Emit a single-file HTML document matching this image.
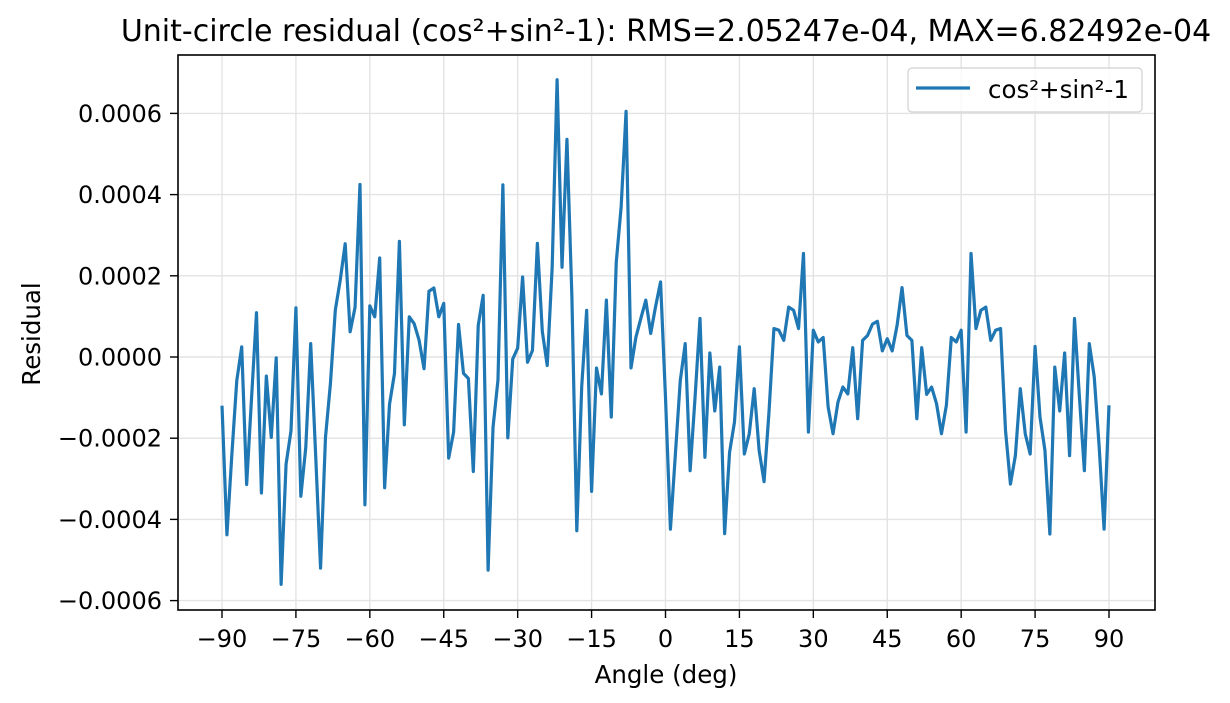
<!DOCTYPE html>
<html><head><meta charset="utf-8"><style>
html,body{margin:0;padding:0;background:#fff;}
svg{display:block;font-family:"DejaVu Sans","Liberation Sans",sans-serif;}
</style></head><body>
<svg id="chart" width="1230" height="703" viewBox="0 0 1230 703">
<rect width="1230" height="703" fill="#fff"/>
<text x="666" y="41" font-size="30" text-anchor="middle" fill="#000">Unit-circle residual (cos²+sin²-1): RMS=2.05247e-04, MAX=6.82492e-04</text>
<g id="grid"></g>
<g id="ticks"></g>
<polyline id="series" fill="none" stroke="#1f77b4" stroke-width="3.2" stroke-linejoin="round"/>
<rect x="178" y="55" width="977" height="555" fill="none" stroke="#000" stroke-width="1.6"/>
<text x="666" y="683" font-size="24.5" text-anchor="middle">Angle (deg)</text>
<text x="40" y="334" font-size="24.5" text-anchor="middle" transform="rotate(-90 40 334)">Residual</text>
<g>
<rect x="908" y="68" width="234" height="44" rx="4" fill="#fff" fill-opacity="0.8" stroke="#d0d0d0" stroke-width="1.2"/>
<line x1="916" y1="88" x2="970" y2="88" stroke="#1f77b4" stroke-width="3.2"/>
<text x="988" y="98" font-size="24.5">cos²+sin²-1</text>
</g>
</svg>
<script>
const angles = [];
for (let a = -90; a <= 90; a++) angles.push(a);
// residual values in units of 1e-4
const residualE4 = [
-1.2,-4.38,-2.4,-0.58,0.25,-3.14,-1.0,1.09,-3.35,-0.47,
-1.98,-0.02,-5.6,-2.64,-1.82,1.21,-3.43,-2.23,0.33,-2.4,
-5.2,-1.98,-0.66,1.16,1.9,2.79,0.62,1.22,4.25,-3.64,
1.26,0.99,2.44,-3.22,-1.16,-0.41,2.85,-1.67,0.99,0.82,
0.41,-0.29,1.62,1.70,0.99,1.32,-2.49,-1.85,0.80,-0.40,
-0.53,-2.82,0.78,1.52,-5.25,-1.73,-0.57,4.24,-1.99,-0.05,
0.22,1.97,-0.13,0.16,2.80,0.63,-0.21,2.2,6.83,2.21,
5.36,1.5,-4.28,-0.72,1.15,-3.31,-0.27,-0.91,1.40,-1.48,
2.32,3.70,6.05,-0.27,0.49,0.95,1.40,0.58,1.25,1.85,
-1.0,-4.24,-2.4,-0.58,0.33,-2.80,-0.99,0.95,-2.47,0.10,
-1.33,-0.25,-4.35,-2.35,-1.60,0.25,-2.39,-1.89,-0.78,-2.30,
-3.07,-1.36,0.70,0.66,0.41,1.23,1.15,0.70,2.55,-1.85,
0.66,0.37,0.48,-1.23,-1.89,-1.11,-0.74,-0.91,0.23,-1.52,
0.41,0.53,0.81,0.88,0.15,0.45,0.15,0.78,1.71,0.53,
0.41,-1.52,0.23,-0.92,-0.74,-1.15,-1.89,-1.19,0.48,0.37,
0.66,-1.85,2.55,0.70,1.15,1.23,0.41,0.66,0.70,-1.81,
-3.13,-2.43,-0.78,-1.89,-2.39,0.26,-1.48,-2.30,-4.36,-0.25,
-1.33,0.10,-2.43,0.95,-0.99,-2.80,0.33,-0.49,-2.2,-4.24,
-1.19
];
const xTicks = [-90,-75,-60,-45,-30,-15,0,15,30,45,60,75,90];
const yTicks = [0.0006,0.0004,0.0002,0,-0.0002,-0.0004,-0.0006];
const yTickLabels = ["0.0006","0.0004","0.0002","0.0000","\u22120.0002","\u22120.0004","\u22120.0006"];

function xScale(a){ return 222 + (a + 90) * (1109 - 222) / 180; }
function yScale(v){ return 357 - v / 0.0002 * 81.2; }

const NS = "http://www.w3.org/2000/svg";
const grid = document.getElementById('grid');
const ticks = document.getElementById('ticks');
function mk(tag, attrs, parent){ const e=document.createElementNS(NS,tag); for(const k in attrs) e.setAttribute(k,attrs[k]); parent.appendChild(e); return e; }

xTicks.forEach(t=>{
  const x = xScale(t);
  const g = mk('line',{x1:x,x2:x,y1:55,y2:610,stroke:'#e3e3e3','stroke-width':1.4},grid);
  
  
  const tk = mk('line',{x1:x,x2:x,y1:610,y2:618,stroke:'#000','stroke-width':1.4},ticks);
  
  
  const lb = mk('text',{x:x,y:647,'font-size':24,'text-anchor':'middle'},ticks);
  lb.textContent = t < 0 ? '\u2212' + Math.abs(t) : String(t);
  
  
});
yTicks.forEach((t,i)=>{
  const y = yScale(t);
  const g = mk('line',{x1:178,x2:1155,y1:y,y2:y,stroke:'#e3e3e3','stroke-width':1.4},grid);
  
  
  const tk = mk('line',{x1:170,x2:178,y1:y,y2:y,stroke:'#000','stroke-width':1.4},ticks);
  
  
  const lb = mk('text',{x:162,y:y+8.5,'font-size':24,'text-anchor':'end'},ticks);
  lb.textContent = yTickLabels[i];
  
  
});
const pts = angles.map((a,i)=> xScale(a).toFixed(2)+','+yScale(residualE4[i]*1e-4).toFixed(2)).join(' ');
document.getElementById('series').setAttribute('points', pts);
</script>
</body></html>
